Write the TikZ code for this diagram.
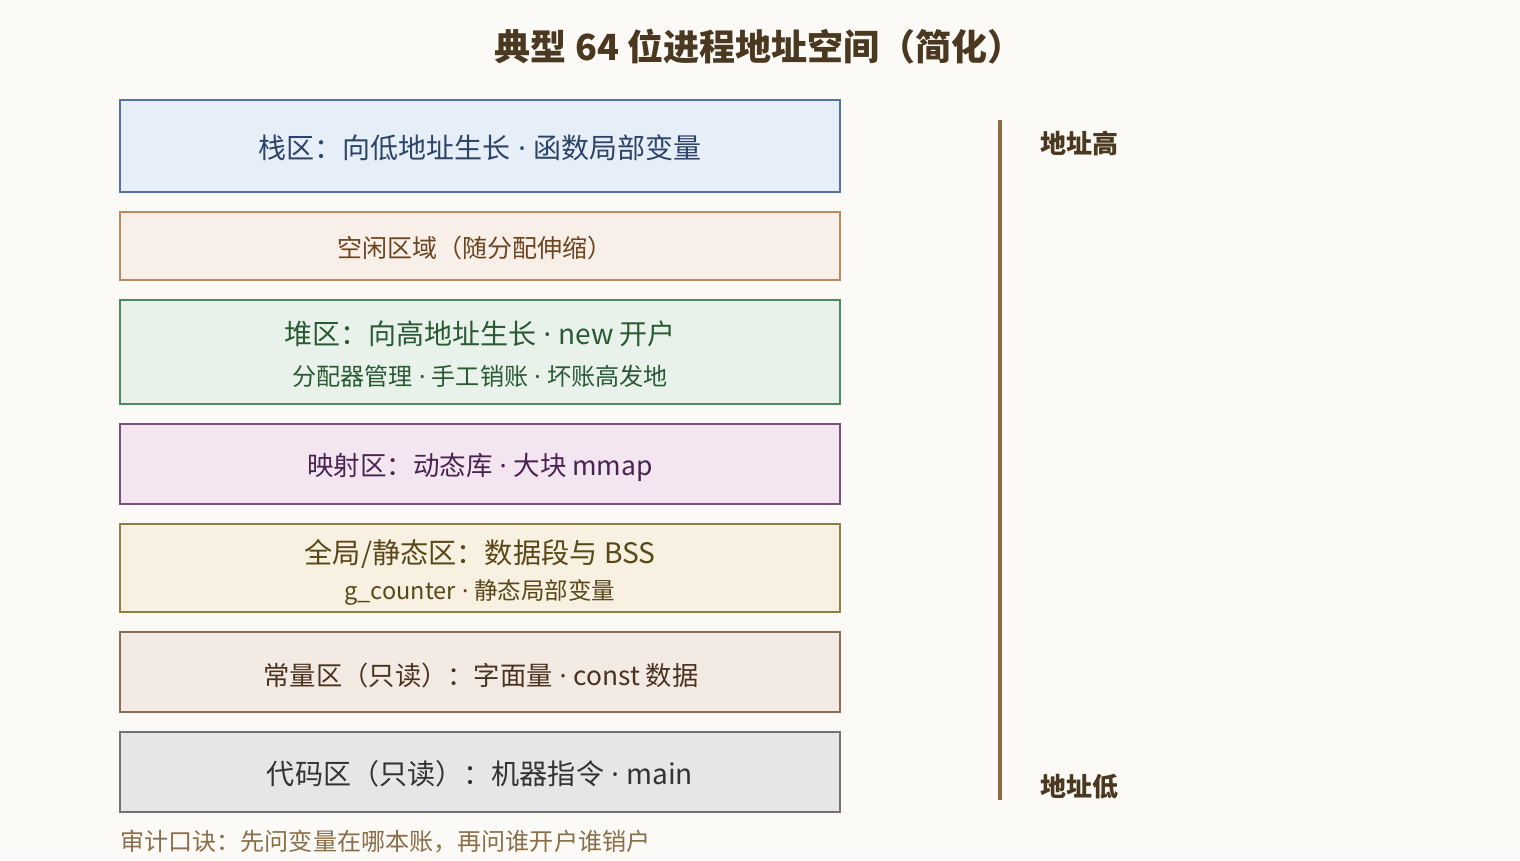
\documentclass[tikz,border=0pt]{standalone}
\usepackage{fontspec}
\setmainfont{Noto Sans CJK SC}
\newfontfamily\latf{Noto Sans}
\newcommand\md{{\latf\ ·\ }}
\definecolor{bg}{HTML}{FCFAF6}
\definecolor{titlec}{HTML}{4A3820}
\definecolor{b1f}{HTML}{E6EEF8}\definecolor{b1d}{HTML}{55739A}\definecolor{b1t}{HTML}{2C4468}
\definecolor{b2f}{HTML}{F8EFE8}\definecolor{b2d}{HTML}{B98C60}\definecolor{b2t}{HTML}{6B4522}
\definecolor{b3f}{HTML}{E8F2EA}\definecolor{b3d}{HTML}{4E8A60}\definecolor{b3t}{HTML}{2A5A34}
\definecolor{b4f}{HTML}{F3E6F1}\definecolor{b4d}{HTML}{7E4E80}\definecolor{b4t}{HTML}{4A2450}
\definecolor{b5f}{HTML}{F8F0E0}\definecolor{b5d}{HTML}{8E7F40}\definecolor{b5t}{HTML}{584818}
\definecolor{b6f}{HTML}{F3EAE3}\definecolor{b6d}{HTML}{8C6C52}\definecolor{b6t}{HTML}{4A3420}
\definecolor{b7f}{HTML}{E6E6E6}\definecolor{b7d}{HTML}{727272}\definecolor{b7t}{HTML}{333333}
\definecolor{axisc}{HTML}{8B6B3E}
\definecolor{footc}{HTML}{8A6E4A}
\tikzset{
  seg/.style={draw=#1d, fill=#1f, line width=2.8pt, text=#1t, minimum width=720pt, inner sep=0pt, outer sep=0pt, anchor=north west},
  fs/.style={font=\fontsize{#1}{#1}\selectfont},
}
\begin{document}
\begin{tikzpicture}[x=1pt,y=-1pt]
\useasboundingbox[fill=bg] (0,0) rectangle (1520,860);
\node[text=titlec, font=\fontsize{36}{40}\selectfont\bfseries] (title) at (759,47) {典型 64 位进程地址空间（简化）};
\node[seg=b1, minimum height=92pt] (stack) at (120,100) {};
\node[text=b1t, fs=28] (stackt) at (480,148) {栈区：向低地址生长\md 函数局部变量};
\node[seg=b2, minimum height=68pt] (free) at (120,212) {};
\node[text=b2t, fs=25] (freet) at (475,248) {空闲区域（随分配伸缩）};
\node[seg=b3, minimum height=104pt] (heap) at (120,300) {};
\node[text=b3t, fs=28] (heapt) at (480,334) {堆区：向高地址生长\md new 开户};
\node[text=b3t, fs=24.1] (heaps) at (480,376) {分配器管理\md 手工销账\md 坏账高发地};
\node[seg=b4, minimum height=80pt] (mmap) at (120,424) {};
\node[text=b4t, fs=26.5] (mmapt) at (480,467) {映射区：动态库\md 大块 mmap};
\node[seg=b5, minimum height=88pt] (data) at (120,524) {};
\node[text=b5t, fs=28.2] (datat) at (480,554) {全局/静态区：数据段与 BSS};
\node[text=b5t, fs=23.5] (datas) at (480,592) {g\_counter\md 静态局部变量};
\node[seg=b6, minimum height=80pt] (const) at (120,632) {};
\node[text=b6t, fs=26.3] (constt) at (481,675) {常量区（只读）：字面量\md const 数据};
\node[seg=b7, minimum height=80pt] (code) at (120,732) {};
\node[text=b7t, fs=28.1] (codet) at (480,774) {代码区（只读）：机器指令\md main};
\node[text=footc, fs=24.1, anchor=west, inner sep=0pt] (foot) at (120,842) {审计口诀：先问变量在哪本账，再问谁开户谁销户};
\coordinate (ahi) at (1000,120);
\coordinate (alo) at (1000,800);
\draw[axisc, line width=3.2pt] (ahi) -- (alo);
\node[text=titlec, font=\fontsize{26}{28}\selectfont\bfseries, anchor=west, inner sep=0pt] (hi) at (1040,143) {地址高};
\node[text=titlec, font=\fontsize{26}{28}\selectfont\bfseries, anchor=west, inner sep=0pt] (lo) at (1040,787) {地址低};
\end{tikzpicture}
\end{document}
